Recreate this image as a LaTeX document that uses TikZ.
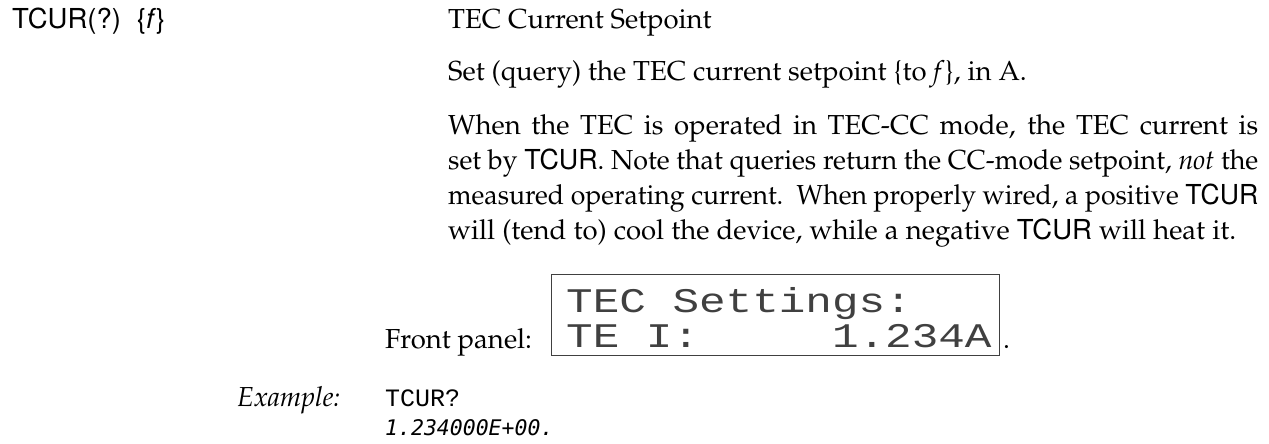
\documentclass[tikz,border=0pt]{standalone}
\usepackage[T1]{fontenc}
\usepackage{graphicx}
\usepackage{fontspec}
\newfontfamily\helv{TeX Gyre Heros}
\newfontfamily\lcdfont{Liberation Mono}
\newfontfamily\codefont{Liberation Mono}
\newfontfamily\replyfont{DejaVu Sans Mono}
\newcommand\bodyfont{\fontencoding{T1}\fontfamily{ppl}\fontsize{27.5}{33}\selectfont}
\newcommand\cmdword[1]{{\helv #1}}
\newsavebox\linebox
% justify one line: stretch the spaces, or squeeze the line if it is too long
\newcommand\bodyline[2][810pt]{\sbox\linebox{#2}%
  \ifdim\wd\linebox>#1\resizebox{#1}{\height}{\usebox\linebox}\else\makebox[#1][s]{#2}\fi}
\newcommand\lcdrow[1]{\scalebox{1}[0.78]{#1}}
\begin{document}
\begin{tikzpicture}[x=1pt,y=-1pt,
  body/.style={anchor=base west, inner sep=0pt, font=\bodyfont},
  head/.style={anchor=base west, inner sep=0pt, font=\helv\fontsize{27.5}{33}\selectfont},
  lcd/.style={anchor=base west, inner sep=0pt, text=black!75, font=\lcdfont\fontsize{44.3}{44}\selectfont},
  query/.style={anchor=base west, inner sep=0pt, font=\codefont\fontsize{25}{30}\selectfont},
  reply/.style={anchor=base west, inner sep=0pt, font=\replyfont\itshape\fontsize{21.5}{25}\selectfont}]
  \useasboundingbox (0,0) rectangle (1269,444);
  % heading
  \node [head] (cmd)   at (12,29)  {TCUR(?)\hspace{16pt}\{\textit{f}\}};
  \node [body] (title) at (448,29) {TEC Current Setpoint};
  \node [body] (brief) at (448,81) {Set (query) the TEC current setpoint \{to \textit{f}\}, in A.};
  % description
  \node [body] (line1) at (448,134) {\bodyline{When the TEC is operated in TEC-CC mode, the TEC current is}};
  \node [body] (line2) at (448,169) {\bodyline{set by \cmdword{TCUR}. Note that queries return the CC-mode setpoint, \textit{not} the}};
  \node [body] (line3) at (448,204) {\bodyline{measured operating current.\ \ When properly wired, a positive \cmdword{TCUR}}};
  \node [body] (line4) at (448,239) {\bodyline[788pt]{will (tend to) cool the device, while a negative \cmdword{TCUR} will heat it.}};
  % front panel
  \draw [line width=0.8pt, black!75] (551,274) coordinate (panelnw) rectangle (999,355) coordinate (panelse);
  \node [lcd] (lcdtop) at (566,312) {\lcdrow{TEC~Settings:}};
  \node [lcd] (lcdbot) at (566,347) {\lcdrow{TE~I:~~~~~1.234A}};
  \node [body] (panel) at (385,348) {Front panel:};
  \node [body] (dot)   at (1003,348) {.};
  % example
  \node [body] (example) at (237,406) {\textit{Example:}};
  \node [query] (ask)    at (385,406) {TCUR?};
  \node [reply] (answer) at (385,435) {1.234000E+00.};
\end{tikzpicture}
\end{document}
